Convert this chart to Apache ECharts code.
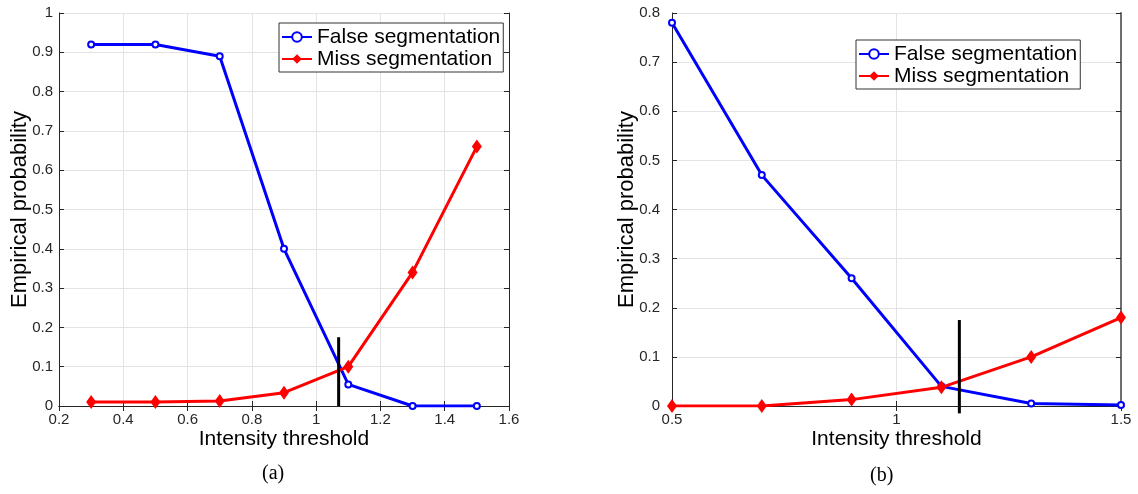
<!DOCTYPE html>
<html>
<head>
<meta charset="utf-8">
<script src="https://cdn.jsdelivr.net/npm/echarts@6/dist/echarts.min.js"></script>
<style>
html,body{margin:0;padding:0;background:#fff;}
#chart{width:1138px;height:494px;}
</style>
</head>
<body>
<div id="chart"></div>
<script>
// ---- data ----
const xA = [0.3, 0.5, 0.7, 0.9, 1.1, 1.3, 1.5];
const falseA = [0.92, 0.92, 0.89, 0.40, 0.055, 0.0, 0.0];
const missA = [0.01, 0.01, 0.013, 0.034, 0.10, 0.34, 0.66];
const xB = [0.5, 0.7, 0.9, 1.1, 1.3, 1.5];
const falseB = [0.78, 0.47, 0.26, 0.04, 0.005, 0.002];
const missB = [0.0, 0.0, 0.013, 0.038, 0.10, 0.18];
const thresholdA = [[1.07, 0.0], [1.07, 0.175]];
const thresholdB = [[1.14, -0.015], [1.14, 0.175]];
const seriesNames = ['False segmentation', 'Miss segmentation'];
const xLabel = 'Intensity threshold';
const yLabel = 'Empirical probability';
const captions = ['(a)', '(b)'];

const FONT = "'Liberation Sans', Arial, Helvetica, sans-serif";
const pair = (xs, ys) => xs.map((x, i) => [x, ys[i]]);

function axisCommon(extra) {
  return Object.assign({
    type: 'value',
    axisLine: {show: true, lineStyle: {color: '#262626', width: 1}},
    axisTick: {show: true, inside: true, length: 5, lineStyle: {color: '#262626'}},
    axisLabel: {color: '#262626', fontFamily: FONT, fontSize: 15, margin: 6},
    splitLine: {show: true, lineStyle: {color: '#e3e3e3', width: 1}},
    nameTextStyle: {color: '#000', fontFamily: FONT, fontSize: 21},
    nameLocation: 'middle',
    nameMoveOverlap: false
  }, extra);
}
function mirror(extra) {
  return Object.assign({
    type: 'value',
    axisLine: {show: true, lineStyle: {color: '#262626', width: 1}},
    axisTick: {show: true, inside: true, length: 5, lineStyle: {color: '#262626'}},
    axisLabel: {show: false},
    splitLine: {show: false}
  }, extra);
}

const falseStyle = (xi, yi, data) => ({
  name: seriesNames[0], type: 'line', xAxisIndex: xi, yAxisIndex: yi, data: data,
  symbol: 'emptyCircle', symbolSize: 6,
  lineStyle: {color: '#0000ff', width: 3},
  itemStyle: {color: '#0000ff', borderColor: '#0000ff', borderWidth: 3},
  emphasis: {disabled: true}, animation: false, z: 3
});
const missStyle = (xi, yi, data) => ({
  name: seriesNames[1], type: 'line', xAxisIndex: xi, yAxisIndex: yi, data: data,
  symbol: 'diamond', symbolSize: [10, 14],
  lineStyle: {color: '#ff0000', width: 3},
  itemStyle: {color: '#ff0000'},
  emphasis: {disabled: true}, animation: false, z: 4
});
const threshStyle = (xi, yi, data) => ({
  type: 'line', xAxisIndex: xi, yAxisIndex: yi, data: data,
  symbol: 'none', lineStyle: {color: '#000', width: 3}, clip: false,
  emphasis: {disabled: true}, animation: false, z: 5, legendHoverLink: false
});

const legendCommon = {
  orient: 'vertical',
  data: seriesNames,
  backgroundColor: '#fff',
  borderColor: '#333', borderWidth: 1, borderRadius: 0,
  padding: [3, 3, 2, 2],
  itemWidth: 30, itemHeight: 12, itemGap: 0, itemTextGap: 3,
  textStyle: {color: '#000', fontFamily: FONT, fontSize: 21, lineHeight: 22},
  selectedMode: false
};

const option = {
  animation: false,
  backgroundColor: '#fff',
  grid: [
    {left: 59, right: 629, top: 13, bottom: 88},
    {left: 672, right: 17, top: 13, bottom: 88}
  ],
  xAxis: [
    axisCommon({gridIndex: 0, min: 0.2, max: 1.6, interval: 0.2, name: xLabel, nameGap: 23}),
    axisCommon({gridIndex: 1, min: 0.5, max: 1.5, interval: 0.5, name: xLabel, nameGap: 23}),
    mirror({gridIndex: 0, position: 'top', min: 0.2, max: 1.6, interval: 0.2}),
    mirror({gridIndex: 1, position: 'top', min: 0.5, max: 1.5, interval: 0.5})
  ],
  yAxis: [
    axisCommon({gridIndex: 0, min: 0, max: 1, interval: 0.1, name: yLabel, nameGap: 28,
      nameTextStyle: {color: '#000', fontFamily: FONT, fontSize: 22}}),
    axisCommon({gridIndex: 1, min: 0, max: 0.8, interval: 0.1, name: yLabel, nameGap: 34,
      axisLabel: {color: '#262626', fontFamily: FONT, fontSize: 15, margin: 12},
      nameTextStyle: {color: '#000', fontFamily: FONT, fontSize: 22}}),
    mirror({gridIndex: 0, position: 'right', min: 0, max: 1, interval: 0.1}),
    mirror({gridIndex: 1, position: 'right', min: 0, max: 0.8, interval: 0.1,
      axisLine: {show: true, lineStyle: {color: '#6e6e6e', width: 2}}})
  ],
  legend: [
    Object.assign({}, legendCommon, {left: 279, top: 23}),
    Object.assign({}, legendCommon, {left: 856, top: 40})
  ],
  series: [
    falseStyle(0, 0, pair(xA, falseA)),
    missStyle(0, 0, pair(xA, missA)),
    threshStyle(0, 0, thresholdA),
    falseStyle(1, 1, pair(xB, falseB)),
    missStyle(1, 1, pair(xB, missB)),
    threshStyle(1, 1, thresholdB)
  ],
  graphic: [
    {type: 'text', left: 262, top: 464, style: {text: captions[0], fontFamily: "'Liberation Serif', 'Times New Roman', serif", fontSize: 20, fill: '#000'}},
    {type: 'text', left: 870, top: 466, style: {text: captions[1], fontFamily: "'Liberation Serif', 'Times New Roman', serif", fontSize: 20, fill: '#000'}}
  ]
};

const chart = echarts.init(document.getElementById('chart'), null, {renderer: 'canvas'});
chart.setOption(option);
</script>
</body>
</html>
